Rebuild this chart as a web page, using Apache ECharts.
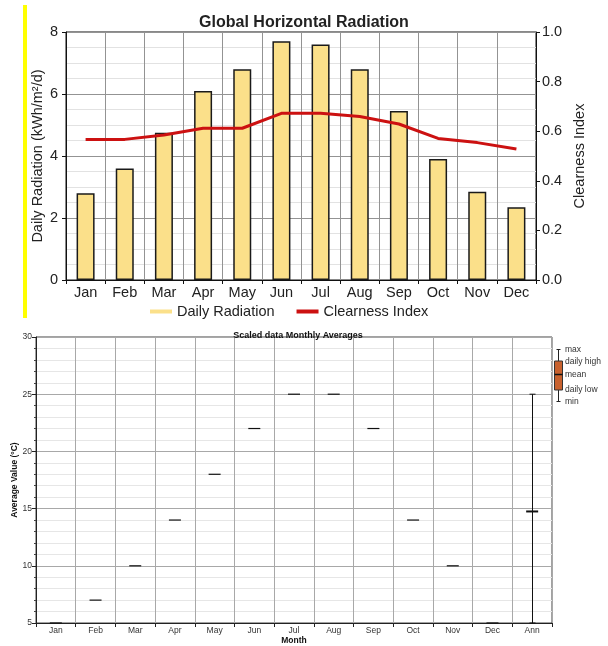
<!DOCTYPE html>
<html><head><meta charset="utf-8">
<script src="https://cdn.jsdelivr.net/npm/echarts@6/dist/echarts.min.js"></script>
<style>html,body{margin:0;padding:0;background:#fff}#c{width:608px;height:646px}</style>
</head><body><div id="c"></div>
<script>
// ---- Top chart data ----
const radMonths = ['Jan','Feb','Mar','Apr','May','Jun','Jul','Aug','Sep','Oct','Nov','Dec'];
const dailyRadiation = [2.8, 3.6, 4.75, 6.1, 6.8, 7.7, 7.6, 6.8, 5.45, 3.9, 2.85, 2.35];
const clearnessIndex = [0.567, 0.567, 0.585, 0.612, 0.612, 0.672, 0.672, 0.659, 0.629, 0.571, 0.554, 0.528];
// ---- Bottom chart data ----
const avgCategories = ['Jan','Feb','Mar','Apr','May','Jun','Jul','Aug','Sep','Oct','Nov','Dec','Ann'];
const avgMean = [5, 7, 10, 14, 18, 22, 25, 25, 22, 14, 10, 5, 14.75];
const annRange = [5, 25];
const boxLegendLabels = ['max','daily high','mean','daily low','min'];

const FONT = '"Liberation Sans", Arial, sans-serif';
const chart = echarts.init(document.getElementById('c'), null, {renderer:'canvas'});

const annIdx = avgCategories.length - 1;

const option = {
  backgroundColor: '#fff',
  animation: false,
  textStyle: {fontFamily: FONT},
  title: [
    {text: 'Global Horizontal Radiation', left: 299, top: 10, textAlign: 'center',
     textStyle: {fontFamily: FONT, fontSize: 16, fontWeight: 'bold', color: '#222'}},
    {text: 'Scaled data Monthly Averages', left: 293, top: 326, textAlign: 'center',
     textStyle: {fontFamily: FONT, fontSize: 9, fontWeight: 'bold', color: '#111'}}
  ],
  legend: {
    data: ['Daily Radiation', 'Clearness Index'],
    icon: 'rect', itemWidth: 22, itemHeight: 4, itemGap: 22,
    left: 145, top: 299,
    itemStyle: {borderWidth: 0},
    textStyle: {fontFamily: FONT, fontSize: 14.5, color: '#222'}
  },
  grid: [
    {left: 66, top: 32, width: 470, height: 248, show: true, borderColor: '#111', borderWidth: 1},
    {left: 36, top: 337, width: 516, height: 287, show: true, borderColor: '#444', borderWidth: 1}
  ],
  xAxis: [
    {type: 'category', gridIndex: 0, data: radMonths, boundaryGap: true,
     axisLine: {lineStyle: {color: '#111'}},
     axisTick: {show: true, length: 4, lineStyle: {color: '#111'}},
     axisLabel: {fontFamily: FONT, fontSize: 14.5, color: '#222', margin: 5, interval: 0},
     splitLine: {show: true, lineStyle: {color: '#939393', width: 1}}},
    {type: 'category', gridIndex: 1, data: avgCategories, boundaryGap: true,
     name: 'Month', nameLocation: 'middle', nameGap: 13, nameMoveOverlap: false,
     nameTextStyle: {fontFamily: FONT, fontSize: 8.5, fontWeight: 'bold', color: '#111'},
     axisLine: {lineStyle: {color: '#222'}},
     axisTick: {show: true, length: 4, lineStyle: {color: '#222'}},
     axisLabel: {fontFamily: FONT, fontSize: 8.5, color: '#333', margin: 3, interval: 0},
     splitLine: {show: true, lineStyle: {color: '#a8a8a8', width: 1}}}
  ],
  yAxis: [
    {type: 'value', gridIndex: 0, min: 0, max: 8, interval: 2, position: 'left',
     name: 'Daily Radiation (kWh/m²/d)', nameLocation: 'middle', nameGap: 21, nameRotate: 90,
     nameMoveOverlap: false,
     nameTextStyle: {fontFamily: FONT, fontSize: 14.5, color: '#222'},
     axisLine: {show: true, lineStyle: {color: '#111'}},
     axisTick: {show: true, length: 4, lineStyle: {color: '#111'}},
     axisLabel: {fontFamily: FONT, fontSize: 14.5, color: '#222', margin: 8},
     splitLine: {show: true, lineStyle: {color: '#939393', width: 1}},
     minorTick: {show: false, splitNumber: 4},
     minorSplitLine: {show: true, lineStyle: {color: '#e2e2e2', width: 1}}},
    {type: 'value', gridIndex: 0, min: 0, max: 1, interval: 0.2, position: 'right',
     name: 'Clearness Index', nameLocation: 'middle', nameGap: 36, nameRotate: 90,
     nameMoveOverlap: false,
     nameTextStyle: {fontFamily: FONT, fontSize: 14.5, color: '#222'},
     axisLine: {show: true, lineStyle: {color: '#111'}},
     axisTick: {show: true, length: 4, lineStyle: {color: '#111'}},
     axisLabel: {fontFamily: FONT, fontSize: 14.5, color: '#222', margin: 6,
                 formatter: v => v.toFixed(1)},
     splitLine: {show: false}},
    {type: 'value', gridIndex: 1, min: 5, max: 30, interval: 5,
     name: 'Average Value (°C)', nameLocation: 'middle', nameGap: 17, nameRotate: 90,
     nameMoveOverlap: false,
     nameTextStyle: {fontFamily: FONT, fontSize: 8.5, fontWeight: 'bold', color: '#111'},
     axisLine: {show: true, lineStyle: {color: '#222'}},
     axisTick: {show: true, length: 4, lineStyle: {color: '#222'}},
     minorTick: {show: true, splitNumber: 5, length: 2, lineStyle: {color: '#444'}},
     axisLabel: {fontFamily: FONT, fontSize: 8.5, color: '#333', margin: 4},
     splitLine: {show: true, lineStyle: {color: '#a8a8a8', width: 1}},
     minorSplitLine: {show: true, lineStyle: {color: '#e6e6e6', width: 1}}}
  ],
  series: [
    {name: 'Daily Radiation', type: 'bar', xAxisIndex: 0, yAxisIndex: 0,
     data: dailyRadiation, barWidth: 18,
     itemStyle: {color: '#fbe08a', borderColor: '#1a1a1a', borderWidth: 1.5}, z: 2},
    {name: 'Clearness Index', type: 'line', xAxisIndex: 0, yAxisIndex: 1,
     data: clearnessIndex, showSymbol: false, symbol: 'none', color: '#cc1111',
     lineStyle: {color: '#cc1111', width: 3}, z: 3},
    {name: 'Mean', type: 'custom', xAxisIndex: 1, yAxisIndex: 2,
     data: avgMean.map((v, i) => [i, v]),
     encode: {x: 0, y: 1},
     renderItem: function (params, api) {
       const p = api.coord([api.value(0), api.value(1)]);
       const ann = params.dataIndex === annIdx;
       return {type: 'line', z2: 5,
               shape: {x1: p[0] - 6, y1: p[1], x2: p[0] + 6, y2: p[1]},
               style: {stroke: '#111', lineWidth: ann ? 2 : 1.2}};
     }, z: 4},
    {name: 'Range', type: 'custom', xAxisIndex: 1, yAxisIndex: 2,
     data: [[annIdx, annRange[0], annRange[1]]],
     encode: {x: 0, y: [1, 2]},
     renderItem: function (params, api) {
       const lo = api.coord([api.value(0), api.value(1)]);
       const hi = api.coord([api.value(0), api.value(2)]);
       const x = Math.round(lo[0]) + 0.5;
       return {type: 'group', children: [
         {type: 'line', shape: {x1: x, y1: lo[1], x2: x, y2: hi[1]}, style: {stroke: '#111', lineWidth: 1}},
         {type: 'line', shape: {x1: x - 3, y1: hi[1], x2: x + 3, y2: hi[1]}, style: {stroke: '#111', lineWidth: 1}},
         {type: 'line', shape: {x1: x - 3, y1: lo[1], x2: x + 3, y2: lo[1]}, style: {stroke: '#111', lineWidth: 1}}
       ]};
     }, z: 3}
  ],
  graphic: [
    {type: 'rect', shape: {x: 23, y: 5, width: 4, height: 313}, style: {fill: '#ffff00'}},
    {type: 'group', left: 552, top: 345, children: [
      {type: 'line', shape: {x1: 7.5, y1: 4, x2: 7.5, y2: 56}, style: {stroke: '#222', lineWidth: 1}},
      {type: 'line', shape: {x1: 5.5, y1: 4, x2: 9.5, y2: 4}, style: {stroke: '#222', lineWidth: 1}},
      {type: 'line', shape: {x1: 5.5, y1: 56, x2: 9.5, y2: 56}, style: {stroke: '#222', lineWidth: 1}},
      {type: 'rect', shape: {x: 3.5, y: 15.5, width: 8, height: 29}, style: {fill: '#c8612e', stroke: '#333', lineWidth: 1}},
      {type: 'line', shape: {x1: 3.5, y1: 29, x2: 11.5, y2: 29}, style: {stroke: '#111', lineWidth: 1.5}},
      {type: 'text', x: 14, y: 4, style: {text: boxLegendLabels[0], font: '8.5px ' + FONT, fill: '#333', textVerticalAlign: 'middle', verticalAlign: 'middle'}},
      {type: 'text', x: 14, y: 16.5, style: {text: boxLegendLabels[1], font: '8.5px ' + FONT, fill: '#333', textVerticalAlign: 'middle', verticalAlign: 'middle'}},
      {type: 'text', x: 14, y: 29, style: {text: boxLegendLabels[2], font: '8.5px ' + FONT, fill: '#333', textVerticalAlign: 'middle', verticalAlign: 'middle'}},
      {type: 'text', x: 14, y: 44.5, style: {text: boxLegendLabels[3], font: '8.5px ' + FONT, fill: '#333', textVerticalAlign: 'middle', verticalAlign: 'middle'}},
      {type: 'text', x: 14, y: 56, style: {text: boxLegendLabels[4], font: '8.5px ' + FONT, fill: '#333', textVerticalAlign: 'middle', verticalAlign: 'middle'}}
    ]}
  ]
};
chart.setOption(option);
</script>
</body></html>
